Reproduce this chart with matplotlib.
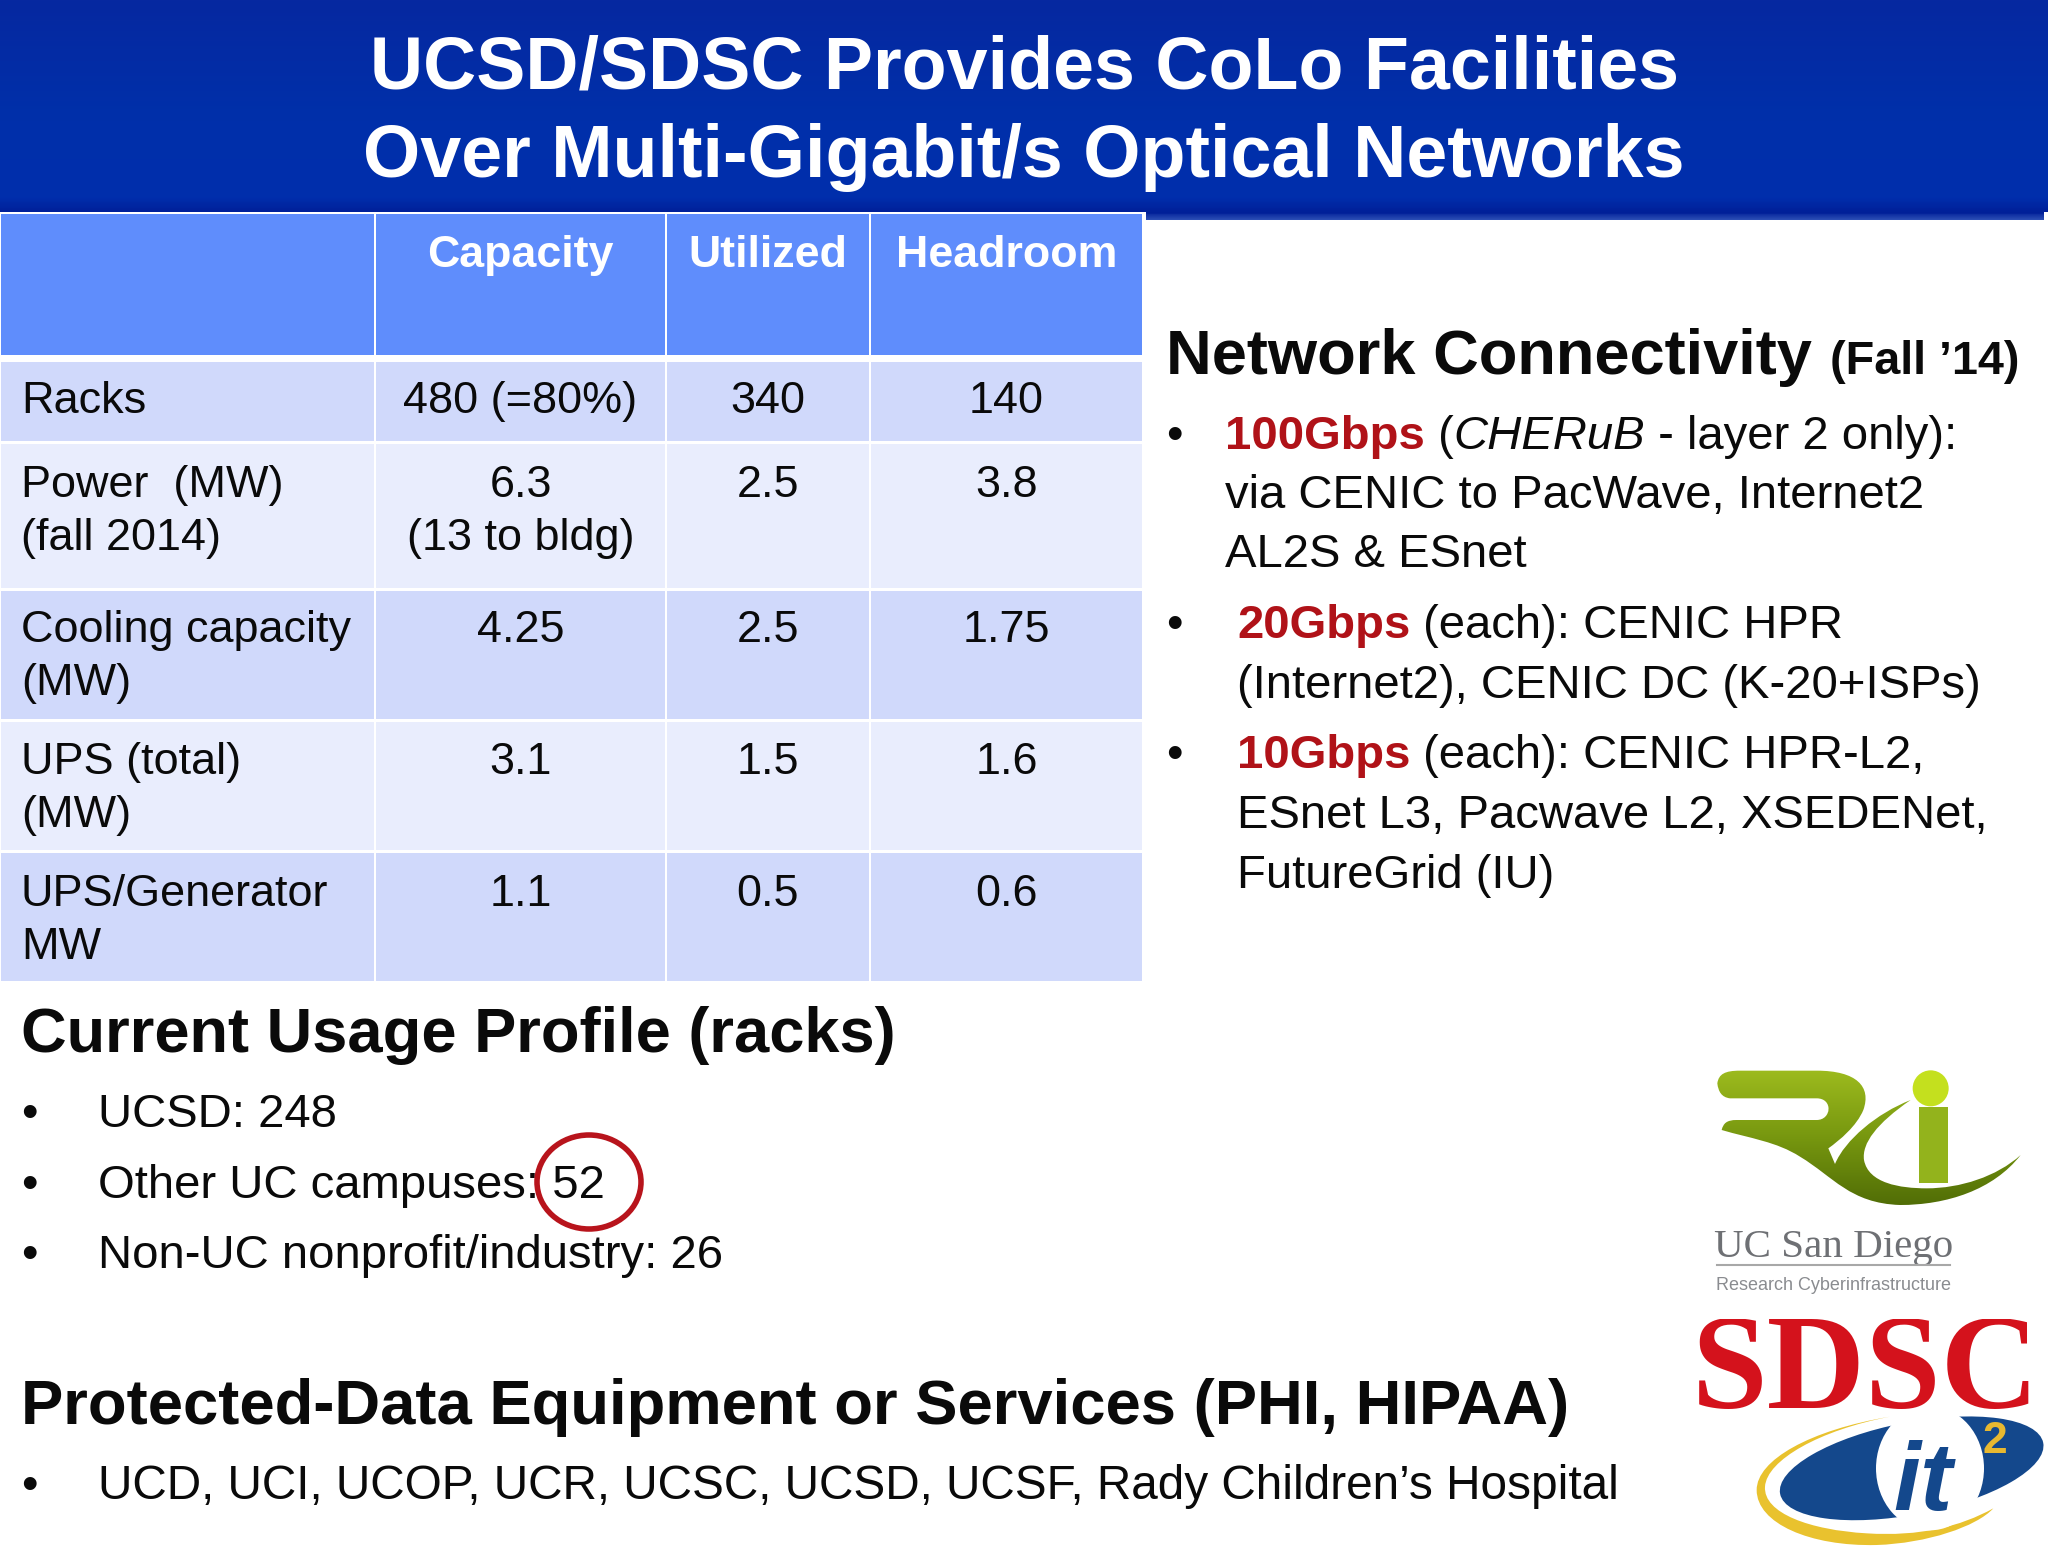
import numpy as np
import matplotlib
matplotlib.use('Agg')
import matplotlib.pyplot as plt
from matplotlib.patches import Rectangle, PathPatch, Ellipse, Circle
from matplotlib.path import Path
from matplotlib.colors import LinearSegmentedColormap

plt.rcParams['font.family'] = ['Liberation Sans', 'DejaVu Sans']

# table content
col_headers = ['Capacity', 'Utilized', 'Headroom']
row_labels = ['Racks', 'Power  (MW)\n(fall 2014)', 'Cooling capacity\n(MW)', 'UPS (total)\n(MW)', 'UPS/Generator\nMW']
capacity = ['480 (=80%)', '6.3\n(13 to bldg)', '4.25', '3.1', '1.1']
utilized = ['340', '2.5', '2.5', '1.5', '0.5']
headroom = ['140', '3.8', '1.75', '1.6', '0.6']

title_lines = ['UCSD/SDSC Provides CoLo Facilities', 'Over Multi-Gigabit/s Optical Networks']
usage_items = ['UCSD: 248', 'Other UC campuses: 52', 'Non-UC nonprofit/industry: 26']
protected_items = ['UCD, UCI, UCOP, UCR, UCSC, UCSD, UCSF, Rady Children\u2019s Hospital']

col_edges = [0, 375, 666, 870, 1143]
row_edges = [(362, 441), (444, 588), (591, 719), (722, 850), (853, 981)]
row_base = [[413], [497, 550], [642, 695], [774, 827], [906, 959]]

BODY = 34.05
TABLE = 32.4
DARK = '#0a0a0a'
RED = '#b01218'

fig = plt.figure(figsize=(20.48, 15.55), dpi=100)
ax = fig.add_axes([0, 0, 1, 1])
ax.set_xlim(0, 2048)
ax.set_ylim(1555, 0)
ax.axis('off')


def text_width(s, **kw):
    # measure with a guard char so trailing spaces are counted
    r = fig.canvas.get_renderer()
    t1 = ax.text(0, 0, s + '|', **kw)
    t2 = ax.text(0, 0, '|', **kw)
    w = t1.get_window_extent(r).width - t2.get_window_extent(r).width
    t1.remove()
    t2.remove()
    return w


def runs(x, y, parts, size=BODY):
    for s, kw in parts:
        ax.text(x, y, s, fontsize=size, va='baseline', color=kw.get('color', DARK),
                fontweight=kw.get('weight', 'normal'), fontstyle=kw.get('style', 'normal'))
        x += text_width(s, fontsize=size, fontweight=kw.get('weight', 'normal'),
                        fontstyle=kw.get('style', 'normal'))


def body(x, y, s, size=BODY):
    ax.text(x, y, s, fontsize=size, va='baseline', color=DARK)


def heading(x, y, s, size=45.5):
    ax.text(x, y, s, fontsize=size, fontweight='bold', va='baseline', color=DARK)


def zp(x, y):
    return (1660 + x / 3, 1040 + y / 3)


# title band, darker just above the bottom edge
cmap = LinearSegmentedColormap.from_list('band', [(0, '#0628a0'), (0.55, '#0030aa'), (0.9, '#002eac'), (0.97, '#001f98'), (1, '#2a4cb4')])
ax.imshow(np.linspace(0, 1, 220).reshape(-1, 1), extent=(0, 2048, 220, 0), cmap=cmap, aspect='auto', zorder=1)
ax.set_xlim(0, 2048)
ax.set_ylim(1555, 0)
ax.add_patch(Rectangle((0, 212), 1146, 9, fc='white', ec='none', zorder=2))
ax.add_patch(Rectangle((2044, 212), 4, 9, fc='white', ec='none', zorder=2))
for s, y in zip(title_lines, [89, 177]):
    ax.text(1024, y, s, color='white', fontsize=53, fontweight='bold', ha='center', va='baseline', zorder=3)

# table
for j in range(4):
    x0, x1 = col_edges[j] + 1, col_edges[j + 1] - 1
    ax.add_patch(Rectangle((x0, 214), x1 - x0, 141, fc='#5f8dfc', ec='none', zorder=2))
    for i, (y0, y1) in enumerate(row_edges):
        ax.add_patch(Rectangle((x0, y0), x1 - x0, y1 - y0, fc='#d0d9fb' if i % 2 == 0 else '#e9edfd', ec='none', zorder=2))

for j, h in enumerate(col_headers):
    cx = (col_edges[j + 1] + col_edges[j + 2]) / 2
    ax.text(cx, 267, h, color='white', fontsize=32.2, fontweight='bold', ha='center', va='baseline', zorder=3)

for i, label in enumerate(row_labels):
    for line, y in zip(label.split('\n'), row_base[i]):
        ax.text(21, y, line, fontsize=TABLE, color=DARK, va='baseline', zorder=3)
    for j, col in enumerate([capacity, utilized, headroom]):
        cx = (col_edges[j + 1] + col_edges[j + 2]) / 2
        for line, y in zip(col[i].split('\n'), row_base[i]):
            ax.text(cx, y, line, fontsize=TABLE, color=DARK, ha='center', va='baseline', zorder=3)

# network connectivity
heading(1166, 374, 'Network Connectivity')
ax.text(1830, 374, '(Fall \u201914)', fontsize=33.7, fontweight='bold', color=DARK, va='baseline')
for y in [449, 638, 768]:
    body(1166, y, '\u2022')
runs(1225, 449, [('100Gbps', {'weight': 'bold', 'color': RED}), (' (', {}), ('CHERuB', {'style': 'italic'}), (' - layer 2 only):', {})])
body(1225, 508, 'via CENIC to PacWave, Internet2')
body(1225, 567, 'AL2S & ESnet')
runs(1237, 638, [('20Gbps', {'weight': 'bold', 'color': RED}), (' (each): CENIC HPR', {})])
body(1237, 698, '(Internet2), CENIC DC (K-20+ISPs)')
runs(1237, 768, [('10Gbps', {'weight': 'bold', 'color': RED}), (' (each): CENIC HPR-L2,', {})])
body(1237, 828, 'ESnet L3, Pacwave L2, XSEDENet,')
body(1237, 888, 'FutureGrid (IU)')

# usage and protected data
heading(21, 1052, 'Current Usage Profile (racks)')
for s, y in zip(usage_items, [1127, 1198, 1268]):
    body(21, y, '\u2022')
    body(98, y, s)
ax.add_patch(Ellipse((589, 1182), 104, 94, fc='none', ec='#b8141c', lw=4, zorder=4))

heading(21, 1424, 'Protected-Data Equipment or Services (PHI, HIPAA)', size=45.6)
body(21, 1499, '\u2022')
body(98, 1499, protected_items[0], size=34.4)

# RCI logo
M, L, C = Path.MOVETO, Path.LINETO, Path.CURVE4
rci = [
    (M, (172, 130)), (C, (176, 102)), (C, (195, 92)), (C, (240, 92)), (L, (470, 92)),
    (C, (590, 92)), (C, (635, 140)), (C, (610, 210)),
    (C, (590, 258)), (C, (540, 300)), (C, (505, 325)),
    (L, (525, 372)),
    (C, (555, 300)), (C, (650, 220)), (C, (752, 180)),
    (C, (650, 250)), (C, (605, 310)), (C, (612, 360)),
    (C, (625, 430)), (C, (720, 445)), (C, (800, 445)),
    (C, (900, 445)), (C, (1010, 410)), (C, (1082, 345)),
    (C, (1000, 450)), (C, (860, 495)), (C, (720, 495)),
    (C, (570, 490)), (C, (520, 410)), (C, (420, 350)),
    (C, (350, 305)), (C, (270, 295)), (C, (185, 270)),
    (C, (190, 250)), (C, (200, 240)), (C, (230, 240)),
    (L, (470, 240)), (C, (515, 240)), (C, (520, 175)), (C, (470, 175)),
    (L, (210, 175)), (C, (185, 172)), (C, (175, 155)), (C, (172, 130)),
]
codes = [c for c, _ in rci]
verts = [zp(*p) for _, p in rci]
green = LinearSegmentedColormap.from_list('rci', ['#9dbb1e', '#76960f', '#4f6b06'])
im = ax.imshow(np.linspace(0, 1, 64).reshape(-1, 1), extent=(1715, 2025, 1210, 1068), cmap=green, aspect='auto', zorder=2)
im.set_clip_path(PathPatch(Path(verts, codes), transform=ax.transData))
ax.set_xlim(0, 2048)
ax.set_ylim(1555, 0)
x0, y0 = zp(778, 200)
x1, y1 = zp(865, 430)
ax.add_patch(Rectangle((x0, y0), x1 - x0, y1 - y0, fc='#93b31c', ec='none', zorder=3))
ax.add_patch(Circle(zp(812, 145), 18, fc='#c4e01e', ec='none', zorder=3))

ax.text(1834, 1257, 'UC San Diego', family='Liberation Serif', fontsize=29.5, color='#6e7074', ha='center', va='baseline', zorder=3)
ax.plot([1717, 1950], [1265, 1265], color='#a8a8a8', lw=1.5, zorder=3)
ax.text(1834, 1290, 'Research Cyberinfrastructure', fontsize=13, color='#8a8c90', ha='center', va='baseline', zorder=3)

# SDSC + it2 logo, the letters are cropped flat along the top in the source image
ax.text(1866, 1408, 'SDSC', family='Liberation Serif', fontweight='bold', fontsize=98, color='#d4121c', ha='center', va='baseline', zorder=3)
ax.add_patch(Rectangle((1680, 1296), 368, 23, fc='white', ec='none', zorder=3.2))

swoosh = [
    (M, (690, 1130)), (C, (450, 1170)), (C, (290, 1260)), (C, (290, 1350)),
    (C, (290, 1450)), (C, (450, 1520)), (C, (650, 1515)),
    (C, (800, 1510)), (C, (950, 1460)), (C, (1000, 1405)),
    (C, (900, 1460)), (C, (780, 1490)), (C, (620, 1480)),
    (C, (450, 1470)), (C, (310, 1420)), (C, (315, 1340)),
    (C, (320, 1260)), (C, (480, 1170)), (C, (690, 1130)),
]
ax.add_patch(PathPatch(Path([zp(*p) for _, p in swoosh], [c for c, _ in swoosh]), fc='#e9c22e', ec='none', zorder=3))
ax.add_patch(Ellipse(zp(755, 1285), 268, 92, angle=-11, fc='#14488c', ec='none', zorder=4))
ax.add_patch(Ellipse(zp(810, 1285), 108, 124, fc='white', ec='none', zorder=5))
ax.text(*zp(790, 1410), 'it', fontsize=70, fontweight='bold', fontstyle='italic', color='#14488c', ha='center', va='baseline', zorder=6)
ax.text(*zp(1005, 1240), '2', fontsize=32, fontweight='bold', color='#e8b830', ha='center', va='baseline', zorder=6)

fig.savefig('out.png', dpi=100)
